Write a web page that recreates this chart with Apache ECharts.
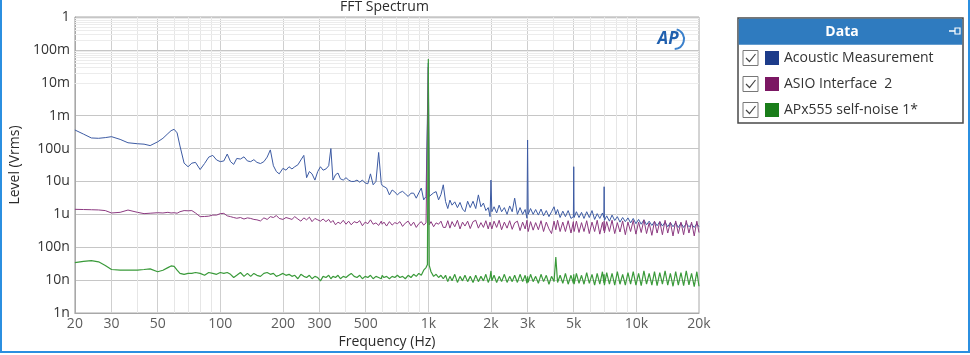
<!DOCTYPE html>
<html><head><meta charset="utf-8">
<script src="https://cdn.jsdelivr.net/npm/echarts@6/dist/echarts.min.js"></script>
<style>html,body{margin:0;padding:0;background:#fff;}#c{width:970px;height:355px;}</style>
</head><body><div id="c"></div>
<script>
// Frequencies (Hz), shared by all three traces
const freqs = [
  20, 22, 24, 26, 28, 30, 33, 36, 40, 43,
  46, 50, 53, 56, 58, 60, 62, 64, 67, 70,
  73, 76, 80, 84, 88, 92, 96, 100, 104, 108,
  112, 116, 120, 125, 130, 135, 140, 145, 150, 156,
  162, 168, 174, 180, 186, 192, 200, 207, 214, 221,
  228, 236, 244, 252, 260, 268, 276, 285, 294, 303,
  312, 322, 332, 340, 348, 358, 368, 378, 390, 402,
  414, 426, 440, 454, 468, 482, 497, 512, 527, 543,
  560, 577, 594, 600, 612, 630, 650, 670, 690, 710,
  730, 752, 775, 800, 825, 850, 875, 900, 925, 950,
  975, 990, 1000, 1010, 1030, 1060, 1090, 1120, 1150, 1180,
  1210, 1240, 1270, 1300, 1340, 1380, 1420, 1460, 1500, 1545,
  1590, 1640, 1690, 1740, 1790, 1840, 1890, 1940, 1980, 2000,
  2020, 2070, 2130, 2190, 2250, 2320, 2390, 2460, 2530, 2600,
  2680, 2760, 2840, 2920, 2980, 3000, 3020, 3100, 3190, 3280,
  3380, 3480, 3580, 3690, 3800, 3910, 4020, 4100, 4180, 4300,
  4430, 4560, 4700, 4850, 4980, 5000, 5020, 5150, 5300, 5450,
  5600, 5770, 5940, 6120, 6300, 6480, 6670, 6870, 6980, 7000,
  7020, 7200, 7420, 7640, 7870, 8100, 8340, 8590, 8850, 9110,
  9380, 9660, 9950, 10250, 10550, 10870, 11190, 11520, 11870, 12220,
  12580, 12960, 13340, 13740, 14150, 14570, 15000, 15450, 15910, 16380,
  16870, 17370, 17890, 18420, 18970, 19530, 20000
];
// Levels in microvolts (uVrms)
const acousticUV = [
  367, 275, 210, 205, 215, 230, 190, 150, 140, 136,
  123, 160, 205, 285, 350, 385, 300, 120, 36, 28,
  36, 38, 23, 35, 55, 62, 45, 40, 42, 68,
  40, 33, 50, 48, 56, 42, 40, 46, 38, 35,
  40, 55, 91, 30, 20, 17, 25, 22, 28, 24,
  28, 32, 45, 62, 13, 20, 17, 11, 20, 28,
  22, 24, 30, 100, 11, 16, 18, 12, 11, 13,
  11, 10, 10, 11, 9.5, 11, 9, 8.5, 17, 7.9,
  10, 76, 8.7, 7.5, 7, 6.3, 3.9, 5.5, 4.8, 3.9,
  4.6, 5, 4.2, 3.5, 4.4, 4.4, 3.1, 4.5, 6.3, 2.75,
  3.5, 3.8, 40000, 3.5, 4.0, 4.5, 4.9, 2.75, 4, 7.9,
  2.45, 1.5, 2.7, 1.9, 2.4, 1.6, 2.3, 1.45, 1.2, 2.5,
  1.6, 2.5, 1.5, 3.9, 1.7, 2.2, 1.3, 1.6, 0.85, 11,
  1.2, 1.7, 1.1, 1.9, 1.2, 1.6, 1.0, 1.8, 1.2, 3.1,
  1.0, 1.6, 1.0, 1.4, 0.76, 182, 1.0, 1.5, 1.0, 1.4,
  0.95, 1.45, 0.9, 1.3, 0.85, 1.2, 1.7, 1.0, 1.4, 0.8,
  1.25, 0.85, 1.3, 0.75, 0.85, 28, 0.8, 1.2, 0.8, 1.15,
  0.75, 1.2, 0.8, 1.3, 0.7, 1.05, 0.75, 1.1, 0.8, 6.9,
  0.65, 0.9, 0.62, 0.95, 0.65, 0.85, 0.58, 0.8, 0.6, 0.78,
  0.55, 0.75, 0.52, 0.7, 0.5, 0.68, 0.48, 0.62, 0.46, 0.6,
  0.45, 0.6, 0.44, 0.58, 0.42, 0.56, 0.42, 0.55, 0.4, 0.54,
  0.4, 0.53, 0.42, 0.5, 0.4, 0.52, 0.42
];
const asioUV = [
  1.42, 1.40, 1.38, 1.36, 1.30, 1.10, 1.15, 1.35, 1.15, 1.05,
  1.08, 1.12, 1.10, 1.15, 1.10, 1.12, 1.08, 1.20, 1.30, 1.28,
  1.30, 1.10, 0.85, 0.86, 0.88, 0.95, 0.95, 1.05, 1.07, 0.90,
  0.85, 0.80, 0.76, 0.80, 0.72, 0.78, 0.75, 0.70, 0.68, 0.63,
  0.78, 0.70, 0.85, 0.80, 0.92, 0.75, 0.70, 0.80, 0.75, 0.70,
  0.85, 0.72, 0.62, 0.78, 0.68, 0.82, 0.60, 0.75, 0.68, 0.62,
  0.72, 0.60, 0.70, 0.56, 0.65, 0.48, 0.58, 0.52, 0.66, 0.50,
  0.62, 0.48, 0.60, 0.55, 0.64, 0.45, 0.58, 0.52, 0.68, 0.50,
  0.55, 0.46, 0.62, 0.50, 0.58, 0.44, 0.60, 0.47, 0.56, 0.52,
  0.60, 0.43, 0.54, 0.62, 0.45, 0.58, 0.40, 0.52, 0.60, 0.47,
  0.55, 0.50, 30000, 0.48, 0.60, 0.42, 0.55, 0.50, 0.62, 0.40,
  0.40, 0.64, 0.38, 0.60, 0.42, 0.66, 0.36, 0.58, 0.44, 0.62,
  0.37, 0.60, 0.66, 0.38, 0.56, 0.40, 0.64, 0.36, 0.58, 0.45,
  0.36, 0.62, 0.40, 0.66, 0.34, 0.58, 0.38, 0.64, 0.35, 0.55,
  0.62, 0.32, 0.58, 0.36, 0.66, 0.40, 0.30, 0.60, 0.33, 0.56,
  0.34, 0.64, 0.30, 0.58, 0.36, 0.26, 0.62, 0.34, 0.66, 0.30,
  0.58, 0.30, 0.64, 0.27, 0.60, 0.36, 0.30, 0.62, 0.28, 0.56,
  0.30, 0.64, 0.26, 0.58, 0.30, 0.66, 0.25, 0.57, 0.32, 0.62,
  0.27, 0.60, 0.30, 0.66, 0.26, 0.56, 0.29, 0.63, 0.24, 0.58,
  0.30, 0.65, 0.25, 0.58, 0.28, 0.68, 0.26, 0.55, 0.23, 0.62,
  0.27, 0.60, 0.24, 0.66, 0.27, 0.57, 0.22, 0.63, 0.26, 0.58,
  0.24, 0.65, 0.27, 0.58, 0.22, 0.62, 0.28
];
const selfNoiseUV = [
  0.034, 0.037, 0.039, 0.036, 0.028, 0.021, 0.020, 0.020, 0.020, 0.021,
  0.022, 0.018, 0.020, 0.024, 0.027, 0.026, 0.020, 0.016, 0.015, 0.016,
  0.016, 0.017, 0.016, 0.014, 0.017, 0.016, 0.015, 0.017, 0.016, 0.017,
  0.015, 0.012, 0.014, 0.017, 0.013, 0.016, 0.013, 0.016, 0.014, 0.013,
  0.016, 0.017, 0.015, 0.016, 0.013, 0.014, 0.016, 0.014, 0.015, 0.013,
  0.014, 0.011, 0.015, 0.013, 0.012, 0.014, 0.011, 0.013, 0.012, 0.0095,
  0.013, 0.012, 0.014, 0.011, 0.013, 0.012, 0.014, 0.011, 0.013, 0.012,
  0.014, 0.016, 0.013, 0.012, 0.014, 0.011, 0.013, 0.012, 0.014, 0.011,
  0.013, 0.012, 0.011, 0.014, 0.012, 0.013, 0.011, 0.013, 0.012, 0.014,
  0.012, 0.013, 0.011, 0.014, 0.012, 0.015, 0.013, 0.016, 0.014, 0.020,
  0.024, 0.030, 53000, 0.028, 0.018, 0.013, 0.015, 0.012, 0.014, 0.011,
  0.014, 0.009, 0.013, 0.0095, 0.015, 0.0085, 0.013, 0.0095, 0.014, 0.009,
  0.013, 0.0085, 0.014, 0.009, 0.013, 0.0095, 0.015, 0.0085, 0.012, 0.019,
  0.0095, 0.014, 0.0085, 0.013, 0.009, 0.015, 0.0085, 0.013, 0.009, 0.014,
  0.0085, 0.015, 0.009, 0.014, 0.008, 0.013, 0.0085, 0.015, 0.009, 0.013,
  0.008, 0.015, 0.009, 0.014, 0.0075, 0.013, 0.009, 0.050, 0.0085, 0.014,
  0.008, 0.016, 0.0075, 0.014, 0.008, 0.015, 0.0075, 0.016, 0.008, 0.014,
  0.0075, 0.017, 0.008, 0.015, 0.007, 0.016, 0.0075, 0.018, 0.008, 0.015,
  0.007, 0.017, 0.0075, 0.016, 0.007, 0.018, 0.0075, 0.015, 0.007, 0.017,
  0.0075, 0.018, 0.007, 0.016, 0.0068, 0.019, 0.0075, 0.016, 0.007, 0.018,
  0.0068, 0.017, 0.0075, 0.019, 0.007, 0.016, 0.0065, 0.018, 0.007, 0.017,
  0.0068, 0.019, 0.0072, 0.016, 0.0063, 0.018, 0.0065
];
const seriesNames = ['Acoustic Measurement', 'ASIO Interface  2', 'APx555 self-noise 1*'];
const xTickValues = [20, 30, 50, 100, 200, 300, 500, 1000, 2000, 3000, 5000, 10000, 20000];
const xTickLabels = ['20', '30', '50', '100', '200', '300', '500', '1k', '2k', '3k', '5k', '10k', '20k'];
const yTickLabels = ['1n', '10n', '100n', '1u', '10u', '100u', '1m', '10m', '100m', '1'];

const FONT = '"Open Sans", "Noto Sans", sans-serif';
const lineColors = ['#3d5ba3', '#8c3a80', '#3a9a3a'];
const legendColors = ['#1d3c8a', '#7b1763', '#1a7d1a'];

function toPairs(vals) {
  const n = Math.min(freqs.length, vals.length);
  const out = [];
  for (let i = 0; i < n; i++) out.push([freqs[i], vals[i] * 1e-6]);
  return out;
}

// grid lines (styling only)
const gridLines = [];
for (let e = 1; e <= 4; e++) {
  for (let k = 1; k <= 9; k++) {
    const f = k * Math.pow(10, e);
    if (f <= 20 || f >= 20000) continue;
    const major = xTickValues.indexOf(f) >= 0;
    gridLines.push({ xAxis: f, lineStyle: { color: major ? '#cfcfcf' : '#e6e6e6', width: 1, type: 'solid' } });
  }
}
for (let e = -9; e <= -1; e++) {
  for (let k = 2; k <= 9; k++) {
    gridLines.push({ yAxis: k * Math.pow(10, e), lineStyle: { color: '#ececec', width: 1, type: 'solid' } });
  }
}

const chart = echarts.init(document.getElementById('c'), null, { renderer: 'canvas' });

const series = seriesNames.map((name, i) => ({
  name: name,
  type: 'line',
  data: toPairs([acousticUV, asioUV, selfNoiseUV][i]),
  showSymbol: false,
  symbol: 'none',
  z: 3,
  lineStyle: { color: lineColors[i], width: i === 2 ? 1.2 : 1 },
  itemStyle: { color: legendColors[i] },
  emphasis: { disabled: true },
  animation: false
}));

series.unshift({
  type: 'line',
  data: [],
  silent: true,
  z: 1,
  markLine: {
    silent: true,
    z: 1,
    animation: false,
    symbol: ['none', 'none'],
    label: { show: false },
    emphasis: { disabled: true },
    data: gridLines
  }
});

series.push({
  type: 'scatter',
  data: xTickValues.map((v, i) => ({ value: [v, 1e-9], label: { formatter: xTickLabels[i] } })),
  symbolSize: 0,
  clip: false,
  silent: true,
  z: 4,
  label: { show: true, position: 'bottom', distance: 4, fontSize: 14, fontFamily: FONT, color: '#333' },
  animation: false
});

const option = {
  animation: false,
  backgroundColor: '#ffffff',
  title: {
    text: 'FFT Spectrum',
    left: 340, top: 0, padding: 0,
    textStyle: { fontFamily: FONT, fontSize: 14, fontWeight: 'normal', color: '#2b2b2b' }
  },
  grid: { left: 68, top: 17, width: 631, height: 296, show: true, borderColor: '#a8a8a8', borderWidth: 1, containLabel: false },
  legend: {
    orient: 'vertical', left: 765, top: 51, padding: 0,
    itemWidth: 14, itemHeight: 14, itemGap: 12, icon: 'rect',
    selectedMode: false,
    textStyle: { fontFamily: FONT, fontSize: 14, color: '#333' },
    data: seriesNames.map((n, i) => ({ name: n, itemStyle: { color: legendColors[i] } }))
  },
  xAxis: {
    type: 'log', logBase: 10, min: 20, max: 20000,
    name: 'Frequency (Hz)', nameLocation: 'middle', nameGap: 22,
    nameTextStyle: { fontFamily: FONT, fontSize: 14, color: '#2b2b2b' },
    axisLine: { show: true, lineStyle: { color: '#a8a8a8' } },
    axisTick: { show: false },
    axisLabel: { show: false },
    splitLine: { show: false }
  },
  yAxis: {
    type: 'log', logBase: 10, min: 1e-9, max: 1, interval: 1,
    name: 'Level (Vrms)', nameLocation: 'middle', nameGap: 46,
    nameTextStyle: { fontFamily: FONT, fontSize: 14, color: '#2b2b2b' },
    axisLine: { show: true, lineStyle: { color: '#a8a8a8' } },
    axisTick: { show: false },
    axisLabel: {
      margin: 5, fontFamily: FONT, fontSize: 14, color: '#333',
      formatter: v => {
        const idx = Math.round(Math.log10(v)) + 9;
        return yTickLabels[idx] !== undefined ? yTickLabels[idx] : '';
      }
    },
    splitLine: { show: true, lineStyle: { color: '#c6c6c6', width: 1 } }
  },
  graphic: [
    { type: 'rect', z: 0, silent: true, shape: { x: 1, y: -10, width: 968, height: 362 }, style: { fill: 'none', stroke: '#2b8fe0', lineWidth: 2 } },
    { type: 'text', z: 10, silent: true, style: { text: 'AP', x: 668, y: 39, align: 'center', verticalAlign: 'middle', fill: '#1f5fae', font: 'italic bold 17px ' + FONT } },
    { type: 'arc', z: 10, silent: true, shape: { cx: 674, cy: 39, r: 10, startAngle: -1.3, endAngle: 1.5 }, style: { stroke: '#3a80cc', lineWidth: 2, fill: 'none' } },
    { type: 'rect', z: 0, silent: true, shape: { x: 738, y: 18, width: 225, height: 105 }, style: { fill: '#fff', stroke: '#4a4a4a', lineWidth: 1.5 } },
    { type: 'rect', z: 1, silent: true, shape: { x: 738.75, y: 18.75, width: 223.5, height: 26 }, style: { fill: '#2f7bbf' } },
    { type: 'text', z: 2, silent: true, style: { text: 'Data', x: 842, y: 32, align: 'center', verticalAlign: 'middle', fill: '#ffffff', font: 'bold 14px ' + FONT } },
    { type: 'line', z: 2, silent: true, shape: { x1: 949, y1: 31, x2: 955, y2: 31 }, style: { stroke: '#fff', lineWidth: 1.5 } },
    { type: 'rect', z: 2, silent: true, shape: { x: 955, y: 28, width: 5, height: 6 }, style: { fill: 'none', stroke: '#fff', lineWidth: 1.2 } },
    ...[58, 84, 110].map(cy => ({
      type: 'group', z: 2, silent: true,
      children: [
        { type: 'rect', shape: { x: 743, y: cy - 7.5, width: 15, height: 15 }, style: { fill: '#fff', stroke: '#777', lineWidth: 1 } },
        { type: 'polyline', shape: { points: [[746, cy], [749.5, cy + 3.5], [755.5, cy - 4]] }, style: { stroke: '#444', lineWidth: 1.2, fill: 'none' } }
      ]
    }))
  ],
  series: series
};
chart.setOption(option);
</script>
</body></html>
